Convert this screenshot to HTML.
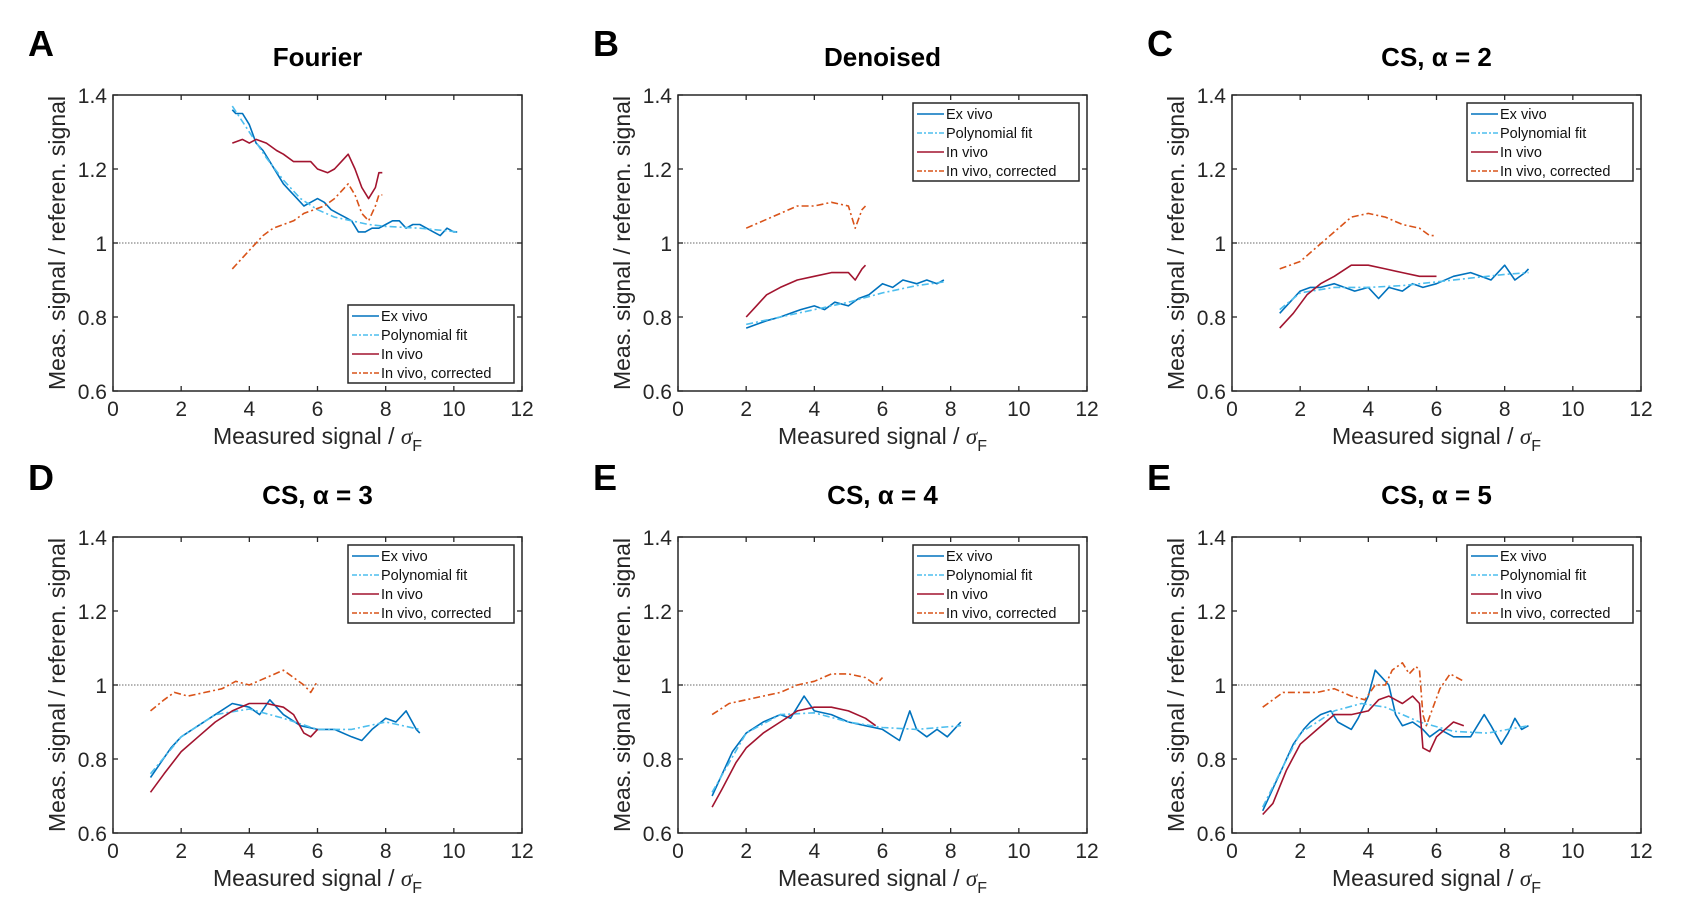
<!DOCTYPE html>
<html><head><meta charset="utf-8"><style>
html,body{margin:0;padding:0;background:#fff;}
svg{display:block;font-family:"Liberation Sans","DejaVu Sans",sans-serif;}
</style></head><body>
<svg id="fig" width="1696" height="907" viewBox="0 0 1696 907" xmlns="http://www.w3.org/2000/svg"></svg>
<script>
const xTicks=[0,2,4,6,8,10,12];
const yTicks=[0.6,0.8,1,1.2,1.4];
const yTickLabels=["0.6","0.8","1","1.2","1.4"];
const panelLetters=["A","B","C","D","E","E"];
const panelTitles=["Fourier","Denoised","CS, α = 2","CS, α = 3","CS, α = 4","CS, α = 5"];
const seriesNames=["Ex vivo","Polynomial fit","In vivo","In vivo, corrected"];

const A_ex=[[3.5,1.36],[3.6,1.35],[3.8,1.35],[4.0,1.32],[4.2,1.27],[4.4,1.25],[4.6,1.22],[4.8,1.19],[5.0,1.16],[5.2,1.14],[5.4,1.12],[5.6,1.10],[5.8,1.11],[6.0,1.12],[6.2,1.11],[6.4,1.09],[6.6,1.08],[6.8,1.07],[7.0,1.06],[7.2,1.03],[7.4,1.03],[7.6,1.04],[7.8,1.04],[8.0,1.05],[8.2,1.06],[8.4,1.06],[8.6,1.04],[8.8,1.05],[9.0,1.05],[9.2,1.04],[9.4,1.03],[9.6,1.02],[9.8,1.04],[10.0,1.03],[10.1,1.03]];
const A_fit=[[3.5,1.37],[4,1.30],[4.5,1.23],[5,1.17],[5.5,1.12],[6,1.09],[6.5,1.07],[7,1.06],[7.5,1.05],[8,1.045],[9,1.04],[10.1,1.03]];
const A_in=[[3.5,1.27],[3.8,1.28],[4.0,1.27],[4.2,1.28],[4.5,1.27],[4.8,1.25],[5.0,1.24],[5.3,1.22],[5.5,1.22],[5.8,1.22],[6.0,1.20],[6.3,1.19],[6.5,1.20],[6.7,1.22],[6.9,1.24],[7.1,1.20],[7.3,1.15],[7.5,1.12],[7.7,1.15],[7.8,1.19],[7.9,1.19]];
const A_corr=[[3.5,0.93],[3.8,0.96],[4.1,0.99],[4.4,1.02],[4.7,1.04],[5.0,1.05],[5.3,1.06],[5.6,1.08],[5.9,1.09],[6.2,1.10],[6.5,1.12],[6.7,1.14],[6.9,1.16],[7.1,1.13],[7.3,1.08],[7.5,1.06],[7.7,1.10],[7.8,1.13],[7.9,1.13]];

const B_ex=[[2,0.77],[2.3,0.78],[2.6,0.79],[3,0.80],[3.3,0.81],[3.6,0.82],[4,0.83],[4.3,0.82],[4.6,0.84],[5,0.83],[5.3,0.85],[5.6,0.86],[6,0.89],[6.3,0.88],[6.6,0.90],[7,0.89],[7.3,0.90],[7.6,0.89],[7.8,0.90]];
const B_fit=[[2,0.78],[3,0.80],[4,0.82],[5,0.84],[6,0.865],[7,0.885],[7.8,0.895]];
const B_in=[[2,0.80],[2.3,0.83],[2.6,0.86],[3,0.88],[3.5,0.90],[4,0.91],[4.5,0.92],[5,0.92],[5.2,0.90],[5.4,0.93],[5.5,0.94]];
const B_corr=[[2,1.04],[2.5,1.06],[3,1.08],[3.5,1.10],[4,1.10],[4.5,1.11],[5,1.10],[5.2,1.04],[5.4,1.09],[5.5,1.10]];

const C_ex=[[1.4,0.81],[1.7,0.84],[2,0.87],[2.3,0.88],[2.6,0.88],[3,0.89],[3.3,0.88],[3.6,0.87],[4,0.88],[4.3,0.85],[4.6,0.88],[5,0.87],[5.3,0.89],[5.6,0.88],[6,0.89],[6.5,0.91],[7,0.92],[7.3,0.91],[7.6,0.90],[8,0.94],[8.3,0.90],[8.6,0.92],[8.7,0.93]];
const C_fit=[[1.4,0.82],[2,0.865],[3,0.88],[4,0.88],[5,0.885],[6,0.895],[7,0.905],[8,0.915],[8.7,0.92]];
const C_in=[[1.4,0.77],[1.8,0.81],[2.2,0.86],[2.6,0.89],[3,0.91],[3.5,0.94],[4,0.94],[4.5,0.93],[5,0.92],[5.5,0.91],[6,0.91]];
const C_corr=[[1.4,0.93],[2,0.95],[2.5,0.99],[3,1.03],[3.5,1.07],[4,1.08],[4.5,1.07],[5,1.05],[5.5,1.04],[5.8,1.02],[6,1.02]];

const D_ex=[[1.1,0.75],[1.4,0.79],[1.7,0.83],[2,0.86],[2.5,0.89],[3,0.92],[3.5,0.95],[4,0.94],[4.3,0.92],[4.6,0.96],[5,0.92],[5.5,0.89],[6,0.88],[6.5,0.88],[7,0.86],[7.3,0.85],[7.6,0.88],[8,0.91],[8.3,0.90],[8.6,0.93],[8.9,0.88],[9,0.87]];
const D_fit=[[1.1,0.76],[2,0.86],[3,0.92],[4,0.935],[5,0.91],[6,0.88],[7,0.88],[8,0.90],[9,0.88]];
const D_in=[[1.1,0.71],[1.5,0.76],[2,0.82],[2.5,0.86],[3,0.90],[3.5,0.93],[4,0.95],[4.5,0.95],[5,0.94],[5.3,0.92],[5.6,0.87],[5.8,0.86],[6,0.88]];
const D_corr=[[1.1,0.93],[1.5,0.96],[1.8,0.98],[2.2,0.97],[2.7,0.98],[3.2,0.99],[3.6,1.01],[4,1.00],[4.5,1.02],[5,1.04],[5.3,1.02],[5.6,1.00],[5.8,0.98],[6,1.01]];

const E_ex=[[1,0.70],[1.3,0.76],[1.6,0.82],[2,0.87],[2.5,0.90],[3,0.92],[3.3,0.91],[3.7,0.97],[4,0.93],[4.5,0.92],[5,0.90],[5.5,0.89],[6,0.88],[6.5,0.85],[6.8,0.93],[7,0.88],[7.3,0.86],[7.6,0.88],[7.9,0.86],[8.2,0.89],[8.3,0.90]];
const E_fit=[[1,0.71],[2,0.87],[3,0.92],[4,0.925],[5,0.90],[6,0.885],[7,0.88],[8.3,0.89]];
const E_in=[[1,0.67],[1.3,0.72],[1.7,0.79],[2,0.83],[2.5,0.87],[3,0.90],[3.5,0.93],[4,0.94],[4.5,0.94],[5,0.93],[5.5,0.91],[5.8,0.89]];
const E_corr=[[1,0.92],[1.5,0.95],[2,0.96],[2.5,0.97],[3,0.98],[3.5,1.00],[4,1.01],[4.5,1.03],[5,1.03],[5.5,1.02],[5.8,1.00],[6,1.02]];

const F_ex=[[0.9,0.66],[1.2,0.72],[1.5,0.78],[1.8,0.84],[2.1,0.88],[2.3,0.90],[2.6,0.92],[2.9,0.93],[3.1,0.90],[3.5,0.88],[3.7,0.91],[4,0.97],[4.2,1.04],[4.4,1.02],[4.6,1.00],[4.8,0.92],[5,0.89],[5.3,0.90],[5.6,0.88],[5.8,0.86],[6.1,0.88],[6.5,0.86],[7,0.86],[7.4,0.92],[7.6,0.89],[7.9,0.84],[8.1,0.87],[8.3,0.91],[8.5,0.88],[8.7,0.89]];
const F_fit=[[0.9,0.67],[1.5,0.78],[2,0.87],[3,0.93],[3.8,0.95],[4.5,0.94],[5.5,0.90],[6.5,0.875],[7.5,0.87],[8.7,0.89]];
const F_in=[[0.9,0.65],[1.2,0.68],[1.6,0.77],[2,0.84],[2.5,0.88],[3,0.92],[3.5,0.92],[4,0.93],[4.3,0.96],[4.6,0.97],[5,0.95],[5.3,0.97],[5.5,0.95],[5.6,0.83],[5.8,0.82],[6,0.86],[6.5,0.90],[6.8,0.89]];
const F_corr=[[0.9,0.94],[1.5,0.98],[2,0.98],[2.5,0.98],[3,0.99],[3.5,0.97],[3.9,0.96],[4.2,1.00],[4.5,1.00],[4.7,1.04],[5,1.06],[5.2,1.03],[5.4,1.05],[5.5,1.04],[5.6,0.92],[5.7,0.89],[5.9,0.94],[6.1,0.99],[6.4,1.03],[6.8,1.01]];

const panelSeries=[[A_ex,A_fit,A_in,A_corr],[B_ex,B_fit,B_in,B_corr],[C_ex,C_fit,C_in,C_corr],[D_ex,D_fit,D_in,D_corr],[E_ex,E_fit,E_in,E_corr],[F_ex,F_fit,F_in,F_corr]];

const NS="http://www.w3.org/2000/svg";
const svg=document.getElementById('fig');
const colLeft=[113,678,1232], rowTop=[95,537], PW=409, PH=296;
const colors=["#0072BD","#4DBEEE","#A2142F","#D95319"];
const dashes=[null,"7,3,2,3",null,"7,3,2,3"];
const keys=["ex-vivo","polynomial-fit","in-vivo","in-vivo-corrected"];
function mk(tag,attrs,parent){const e=document.createElementNS(NS,tag);for(const k in attrs)e.setAttribute(k,attrs[k]);(parent||svg).appendChild(e);return e;}

for(let p=0;p<6;p++){
  const row=Math.floor(p/3);
  const L=colLeft[p%3], T=rowTop[row];
  const xs=v=>L+v/12*PW;
  const ys=v=>T+PH-(v-0.6)/0.8*PH;
  const g=mk('g',{});
  
  
  const let_=mk('text',{x:L-85,y:row?T-47:T-39,'font-size':36,'font-weight':'bold'},g);
  let_.textContent=panelLetters[p];
  
  
  const tt=mk('text',{x:L+PW/2,y:row?T-33:T-29,'font-size':26,'font-weight':'bold','text-anchor':'middle'},g);
  tt.textContent=panelTitles[p];
  
  
  const rl=mk('line',{x1:L,x2:L+PW,y1:ys(1),y2:ys(1),stroke:'#888','stroke-width':1.2,'stroke-dasharray':'1.5,1.5'},g);
  
  
  xTicks.forEach(t=>{
    const x=xs(t);
    mk('line',{x1:x,x2:x,y1:T+PH,y2:T+PH-5,stroke:'#262626','stroke-width':1.3},g);
    mk('line',{x1:x,x2:x,y1:T,y2:T+5,stroke:'#262626','stroke-width':1.3},g);
    const tl=mk('text',{x:x,y:T+PH+25,'font-size':21,'text-anchor':'middle',fill:'#262626'},g);
    tl.textContent=String(t);
    
    
  });
  yTicks.forEach((t,i)=>{
    const y=ys(t);
    mk('line',{x1:L,x2:L+5,y1:y,y2:y,stroke:'#262626','stroke-width':1.3},g);
    mk('line',{x1:L+PW,x2:L+PW-5,y1:y,y2:y,stroke:'#262626','stroke-width':1.3},g);
    const tl=mk('text',{x:L-6,y:y+8,'font-size':21,'text-anchor':'end',fill:'#262626'},g);
    tl.textContent=yTickLabels[i];
    
    
  });
  const xt=mk('text',{x:L+PW/2,y:T+PH+53,'font-size':23,'text-anchor':'middle',fill:'#262626'},g);
  xt.innerHTML='Measured signal / <tspan font-family="Liberation Serif, serif" font-style="italic">σ</tspan><tspan font-size="16" dy="7">F</tspan>';
  
  
  const yt=mk('text',{x:0,y:0,'font-size':23,'text-anchor':'middle',fill:'#262626',transform:`translate(${L-48},${T+PH/2}) rotate(-90)`},g);
  yt.textContent='Meas. signal / referen. signal';
  
  
  panelSeries[p].forEach((s,i)=>{
    const d=s.map((pt,j)=>(j?'L':'M')+xs(pt[0]).toFixed(1)+','+ys(pt[1]).toFixed(1)).join('');
    const a={d:d,fill:'none',stroke:colors[i],'stroke-width':1.6,'stroke-linejoin':'round'};
    if(dashes[i])a['stroke-dasharray']=dashes[i];
    const path=mk('path',a,g);
    
    
  });
  const box=mk('rect',{x:L,y:T,width:PW,height:PH,fill:'none',stroke:'#262626','stroke-width':1.5},g);
  
  
  const LW=166, LH=78;
  const lx=L+PW-LW-8, ly=(p===0)?T+PH-LH-8:T+8;
  const lg=mk('g',{},g);
  
  
  mk('rect',{x:lx,y:ly,width:LW,height:LH,fill:'#fff',stroke:'#262626','stroke-width':1.5},lg);
  seriesNames.forEach((n,i)=>{
    const yy=ly+11+i*19;
    const a={x1:lx+4,x2:lx+31,y1:yy,y2:yy,stroke:colors[i],'stroke-width':1.6};
    if(dashes[i])a['stroke-dasharray']='5,2,2,2';
    mk('line',a,lg);
    const tx=mk('text',{x:lx+33,y:yy+5,'font-size':14.5,fill:'#111'},lg);
    tx.textContent=n;
    
    
  });
}
</script>
</body></html>
